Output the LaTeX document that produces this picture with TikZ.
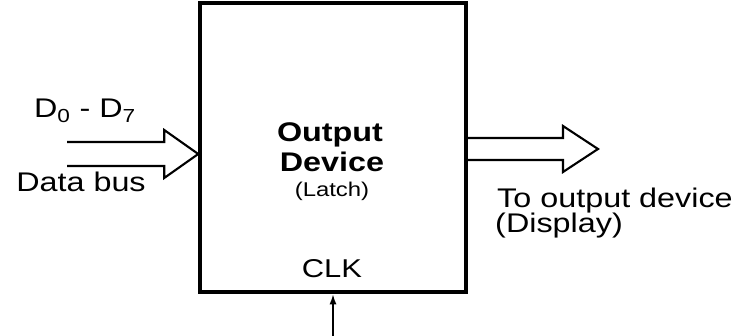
\documentclass[tikz,border=0pt]{standalone}
\usepackage{fontspec}
\setmainfont{Liberation Sans}[FakeStretch=1.2]
\usetikzlibrary{
  arrows.meta,
  positioning,
  calc
}

\begin{document}
\begin{tikzpicture}[x=0.03cm,y=0.03cm,
  blockline/.style={line width=3pt},
  busline/.style={line width=1.8pt,line join=miter},
  clkline/.style={line width=1.8pt},
  txt/.style={font=\fontsize{23}{27}\selectfont,inner sep=0pt,anchor=base},
  boldtxt/.style={txt,font=\fontsize{23}{27}\selectfont\bfseries},
  smalltxt/.style={txt,font=\fontsize{17}{20}\selectfont}]
\useasboundingbox (0,0) rectangle (746,336);
% latch block
\node[draw,blockline,minimum width=7.98cm,minimum height=8.67cm,inner sep=0pt]
  (latch) at (333,188.5) {};
\node[boldtxt] (outtxt) at (330,194) {Output};
\node[boldtxt] (devtxt) at (332,164) {Device};
\node[smalltxt] (latchtxt) at (332,139) {(Latch)};
\node[txt,font=\fontsize{22}{26}\selectfont] (clktxt) at (332,58) {CLK};
% data bus in
\coordinate (busin) at (67,182);
\coordinate (busend) at (latch.west |- busin);
\draw[busline] ($(busin)+(0,12)$) -- ($(busend)+(-34,12)$)
  -- ($(busend)+(-34,24)$) -- (busend) -- ($(busend)+(-34,-24)$)
  -- ($(busend)+(-34,-12)$) -- ($(busin)+(0,-12)$);
\node[txt] (dlabel) at (85,218) {D\textsubscript{0} - D\textsubscript{7}};
\node[txt] (buslabel) at (81,144) {Data bus};
% to the display
\coordinate (outtip) at (598,187);
\coordinate (outstart) at (latch.east |- outtip);
\draw[busline] ($(outstart)+(0,11)$) -- ($(outtip)+(-35,11)$)
  -- ($(outtip)+(-35,23)$) -- (outtip) -- ($(outtip)+(-35,-23)$)
  -- ($(outtip)+(-35,-11)$) -- ($(outstart)+(0,-11)$);
\node[txt,anchor=base west] (todev) at (497,128) {To output device};
\node[txt,anchor=base west] (disp) at (495,103) {(Display)};
% clock
\coordinate (clkin) at (333,0);
\draw[clkline,-{Latex[length=9pt,width=6pt]}] (clkin) -- (clkin |- latch.south);
\end{tikzpicture}
\end{document}
